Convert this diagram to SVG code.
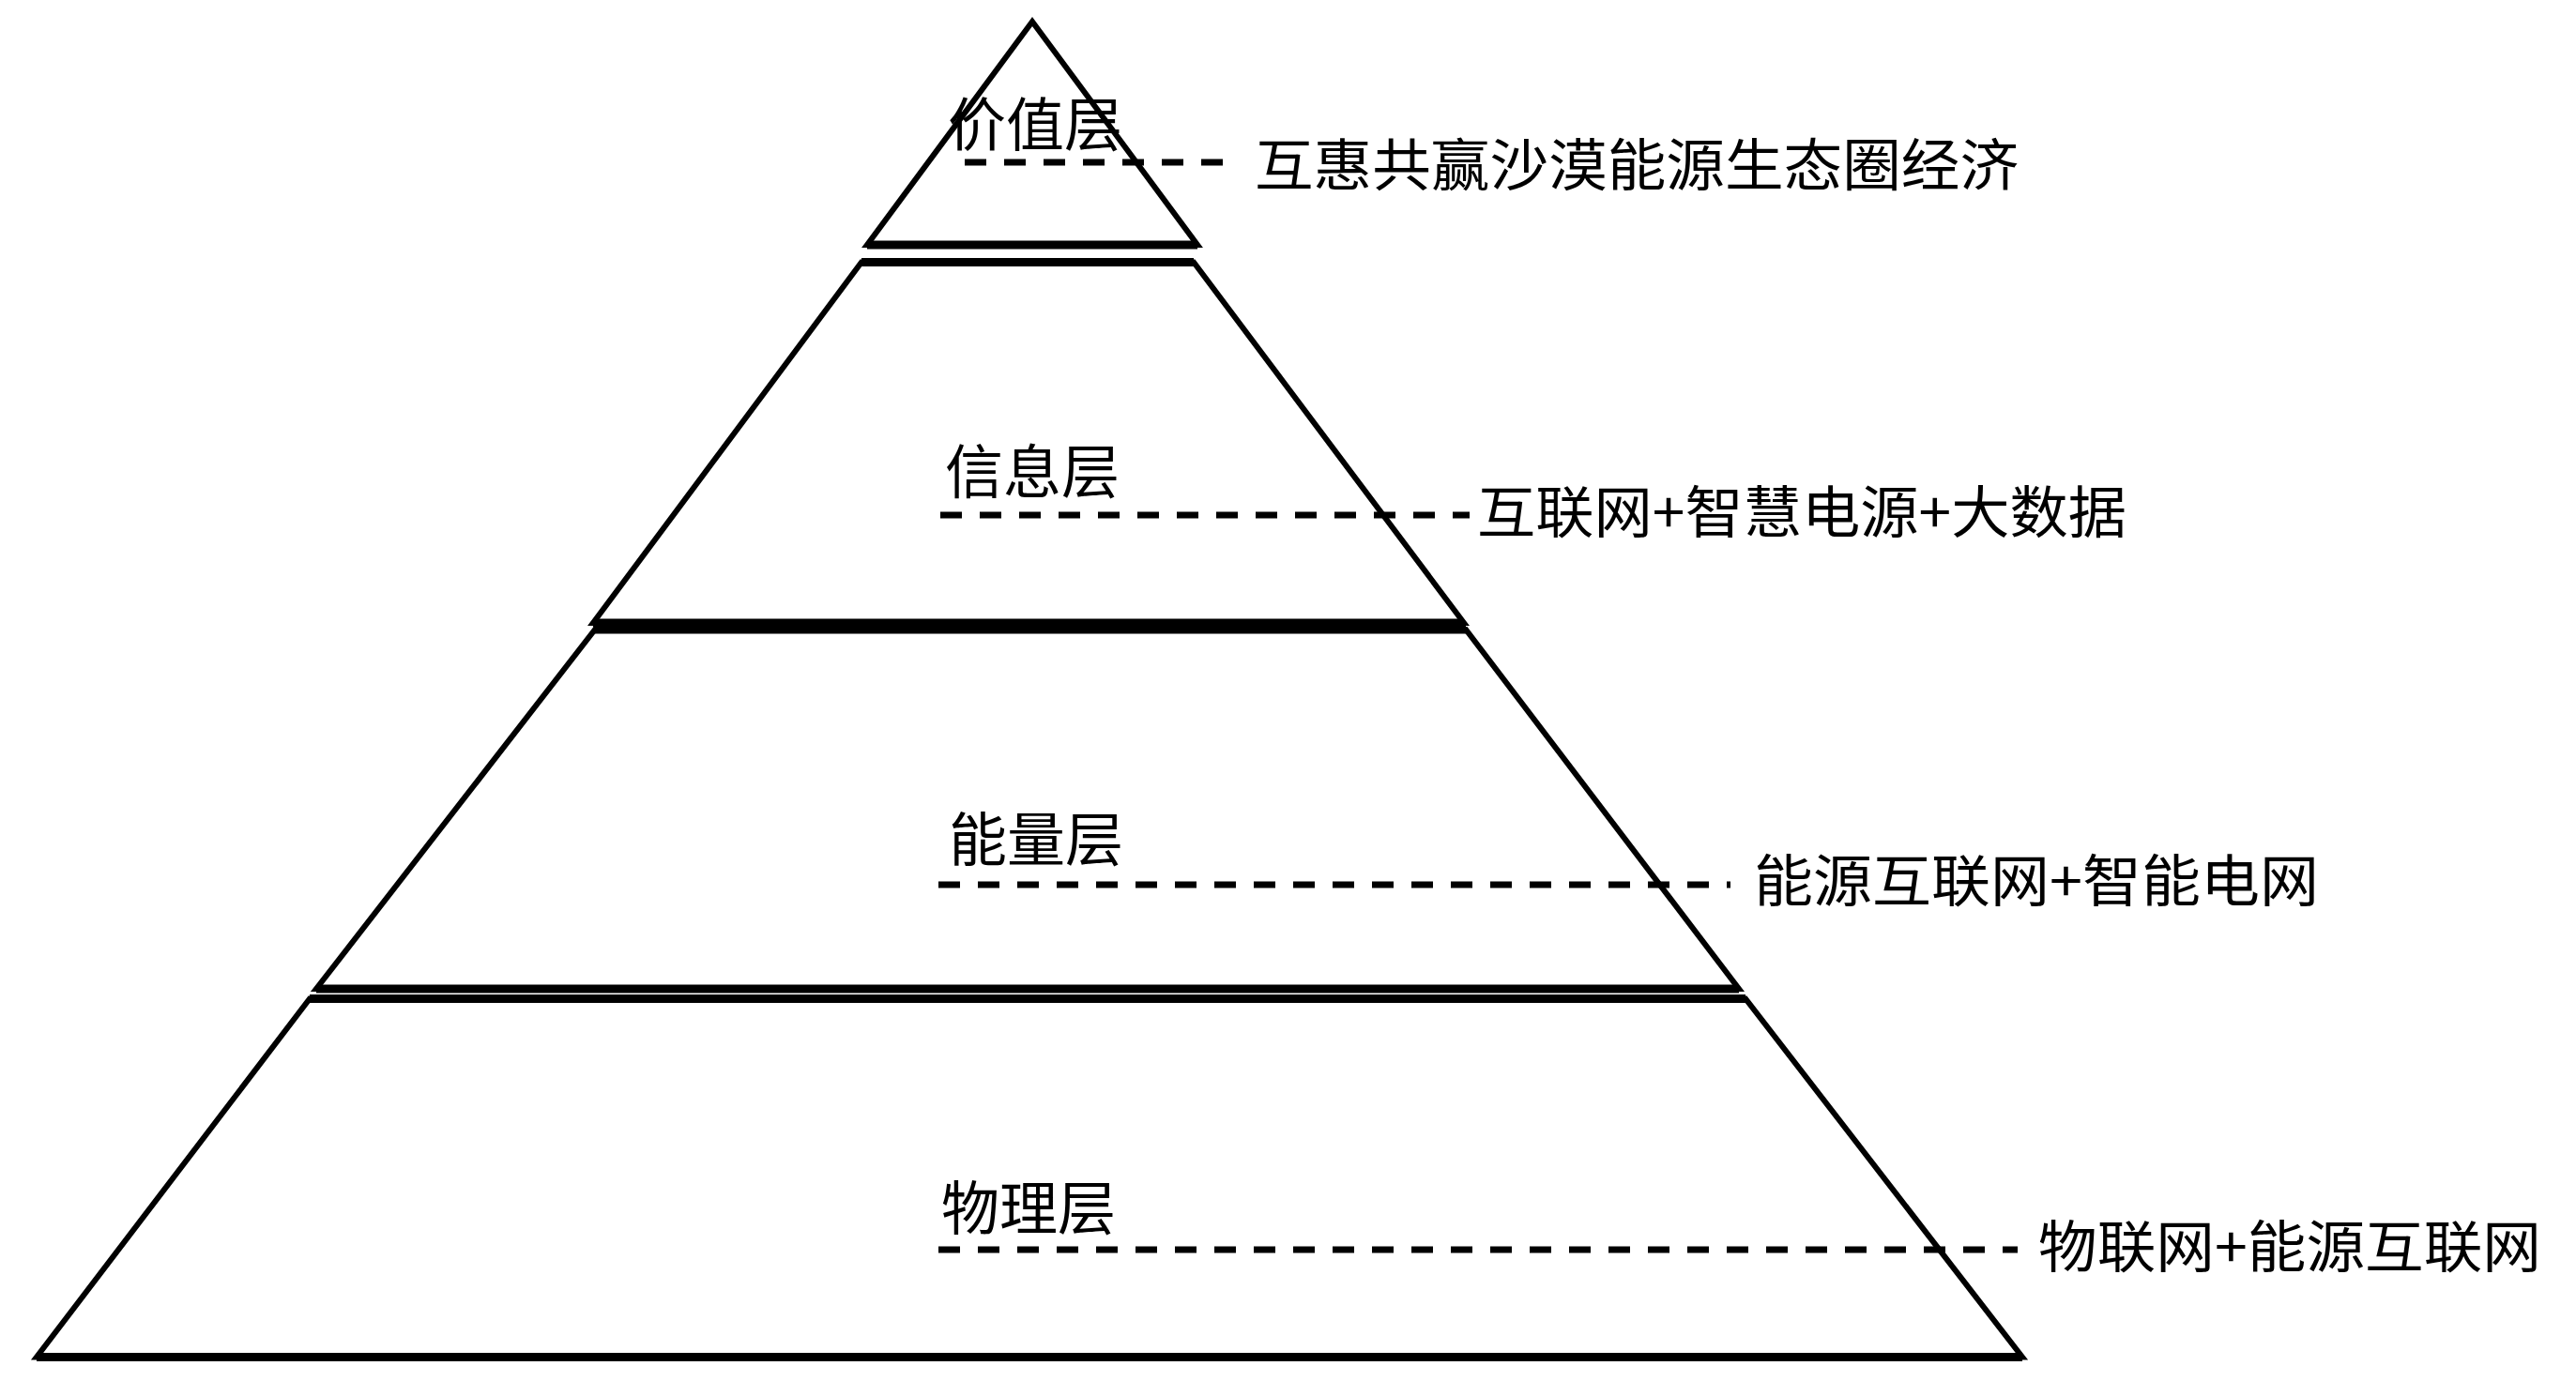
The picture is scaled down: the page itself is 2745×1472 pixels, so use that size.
<svg xmlns="http://www.w3.org/2000/svg" width="2745" height="1472" viewBox="0 0 2745 1472">
<style>
.shape{fill:#fff;stroke:#000;stroke-width:6;stroke-linejoin:miter}
.bar{stroke:#000;stroke-width:9;fill:none}
.dash{stroke:#000;stroke-width:7;stroke-dasharray:23 19;fill:none}
.lbl{font-family:"Noto Sans CJK SC","Noto Sans",sans-serif;font-size:62px;fill:#000}
.desc{font-family:"Noto Sans CJK SC","Noto Sans",sans-serif;font-size:60px;fill:#000}
</style>
<rect x="0" y="0" width="2745" height="1472" fill="#fff"/>
<g id="value-layer">
<polygon class="shape" points="1100,23 1276,261 924,261"/>
<line class="bar" x1="924" y1="261" x2="1276" y2="261"/>
<text class="lbl" x="1010" y="156">价值层</text>
</g>
<g id="info-layer">
<polygon class="shape" points="918,279.5 1272,279.5 1560,664 632,664"/>
<line class="bar" x1="918" y1="279.5" x2="1272" y2="279.5"/>
<line class="bar" x1="632" y1="664" x2="1560" y2="664"/>
<text class="lbl" x="1007" y="526">信息层</text>
</g>
<g id="energy-layer">
<polygon class="shape" points="634,671 1562,671 1853,1054 337,1054"/>
<line class="bar" x1="634" y1="671" x2="1562" y2="671"/>
<line class="bar" x1="337" y1="1054" x2="1853" y2="1054"/>
<text class="lbl" x="1011" y="918">能量层</text>
</g>
<g id="physical-layer">
<polygon class="shape" points="330,1064.5 1860,1064.5 2155,1446.5 39,1446.5"/>
<line class="bar" x1="330" y1="1064.5" x2="1860" y2="1064.5"/>
<line class="bar" x1="39" y1="1446.5" x2="2155" y2="1446.5"/>
<text class="lbl" x="1003" y="1311">物理层</text>
</g>
<g id="connectors">
<line class="dash" x1="1028" y1="173" x2="1317" y2="173"/>
<line class="dash" x1="1002" y1="549" x2="1566" y2="549"/>
<line class="dash" x1="1000" y1="943" x2="1844" y2="943"/>
<line class="dash" x1="1000" y1="1332" x2="2150" y2="1332"/>
</g>
<g id="descriptions">
<text class="desc" x="1337" y="198" textLength="814" lengthAdjust="spacingAndGlyphs">互惠共赢沙漠能源生态圈经济</text>
<text class="desc" x="1574" y="568" textLength="692" lengthAdjust="spacingAndGlyphs">互联网+智慧电源+大数据</text>
<text class="desc" x="1869" y="961" textLength="602" lengthAdjust="spacingAndGlyphs">能源互联网+智能电网</text>
<text class="desc" x="2172" y="1351" textLength="536" lengthAdjust="spacingAndGlyphs">物联网+能源互联网</text>
</g>
</svg>
